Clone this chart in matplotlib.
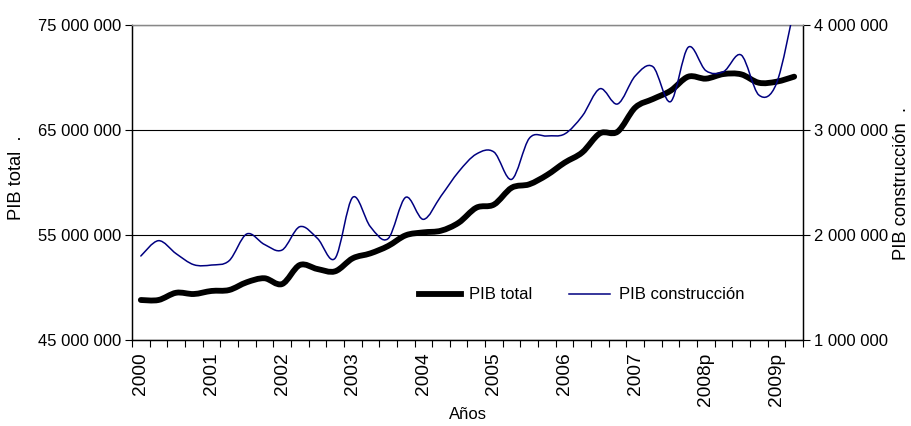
import matplotlib
matplotlib.use("Agg")
import matplotlib.pyplot as plt
from matplotlib.path import Path
from matplotlib.patches import PathPatch
from matplotlib.lines import Line2D
from matplotlib.ticker import FuncFormatter, FixedLocator, NullFormatter
import numpy as np

plt.rcParams['font.family'] = ['Liberation Sans', 'DejaVu Sans']
FS = 12      # horizontal texts
FSR = 13.8   # rotated year labels
FSL = 13.2   # axis titles

years = ["2000", "2001", "2002", "2003", "2004", "2005", "2006", "2007", "2008p", "2009p"]
quarters_per_year = 4

pib_total = [48810000, 48810000, 49500000, 49380000, 49670000, 49760000, 50500000, 50880000,
             50330000, 52140000, 51760000, 51540000, 52780000, 53250000, 53950000, 54970000,
             55250000, 55410000, 56170000, 57600000, 57900000, 59500000, 59830000, 60710000,
             61890000, 62870000, 64680000, 64840000, 67140000, 67950000, 68740000, 70080000,
             69890000, 70330000, 70300000, 69500000, 69600000, 70080000]

pib_construccion = [1800000, 1946000, 1822000, 1717000, 1714000, 1755000, 2010000, 1910000,
                    1857000, 2079000, 1968000, 1778000, 2359000, 2079000, 1965000, 2359000,
                    2149000, 2371000, 2603000, 2771000, 2790000, 2530000, 2921000, 2943000,
                    2962000, 3133000, 3393000, 3248000, 3515000, 3603000, 3270000, 3788000,
                    3565000, 3556000, 3714000, 3333000, 3444000, 4160000]

left_ticks = [45000000, 55000000, 65000000, 75000000]
right_ticks = [1000000, 2000000, 3000000, 4000000]


def smooth_path(xs, ys):
    xs = np.asarray(xs, float)
    ys = np.asarray(ys, float)
    pts = np.column_stack([xs, ys])
    n = len(pts)
    verts = [pts[0]]
    codes = [Path.MOVETO]
    for i in range(n - 1):
        p0 = pts[i - 1] if i > 0 else pts[i]
        p1 = pts[i]
        p2 = pts[i + 1]
        p3 = pts[i + 2] if i + 2 < n else pts[i + 1]
        c1 = p1 + (p2 - p0) / 6.0
        c2 = p2 - (p3 - p1) / 6.0
        verts += [c1, c2, p2]
        codes += [Path.CURVE4] * 3
    return Path(verts, codes)


fig = plt.figure(figsize=(9.12, 4.26), dpi=100)
ax = fig.add_axes([132 / 912, 86 / 426, 671 / 912, 315 / 426])
ax2 = ax.twinx()

x = np.arange(len(pib_total))
ax.set_xlim(-0.5, len(pib_total) - 0.5)
ax.set_ylim(left_ticks[0], left_ticks[-1])
ax2.set_ylim(right_ticks[0], right_ticks[-1])

black_col = "#000000"
blue_col = "#000080"

p1 = PathPatch(smooth_path(x, pib_total), fill=False, edgecolor=black_col, lw=4.2,
               capstyle='round', joinstyle='round', zorder=3)
ax.add_patch(p1)
p2 = PathPatch(smooth_path(x, pib_construccion), fill=False, edgecolor=blue_col, lw=1.1,
               capstyle='round', joinstyle='round', zorder=3)
ax2.add_patch(p2)

fmt = FuncFormatter(lambda v, pos: f"{int(round(v)):,}".replace(",", " "))
ax.yaxis.set_major_locator(FixedLocator(left_ticks))
ax.yaxis.set_major_formatter(fmt)
ax2.yaxis.set_major_locator(FixedLocator(right_ticks))
ax2.yaxis.set_major_formatter(fmt)

ax.grid(axis='y', color='black', lw=0.8)
ax.set_axisbelow(True)

boundaries = np.arange(len(pib_total) + 1) - 0.5
ax.xaxis.set_major_locator(FixedLocator(boundaries))
ax.xaxis.set_major_formatter(NullFormatter())
label_pos = [i * quarters_per_year for i in range(len(years))]
for pos, lab in zip(label_pos, years):
    ax.text(pos, -0.04, lab, transform=ax.get_xaxis_transform(), rotation=90,
            ha='center', va='top', fontsize=FSR)

for a in (ax, ax2):
    for s in a.spines.values():
        s.set_color('black')
        s.set_linewidth(0.9)
    a.spines['top'].set_color('#888888')
ax.tick_params(axis='x', direction='out', length=5, width=0.8, colors='black')
ax.tick_params(axis='y', direction='out', length=5, width=0.8, labelsize=FS, pad=3)
ax2.tick_params(axis='y', direction='out', length=5, width=0.8, labelsize=FS, pad=3)

ax.set_ylabel("PIB total  .", fontsize=FSL, ha='center', va='center')
ax.yaxis.set_label_coords(-0.1714, 0.514)
ax2.set_ylabel("PIB construcción  .", fontsize=FSL, rotation=90, ha='center', va='center')
ax2.yaxis.set_label_coords(1.1465, 0.498)
ax.set_xlabel("Años", fontsize=FS, va='center')
ax.xaxis.set_label_coords(0.5, -0.238)

handles = [Line2D([], [], color=black_col, lw=4.2),
           Line2D([], [], color=blue_col, lw=1.1)]
ax2.legend(handles, ["PIB total", "PIB construcción"], loc='center', ncol=2,
           bbox_to_anchor=(0.67, 0.143), frameon=False, fontsize=FS,
           handlelength=2.5, columnspacing=2.2, handletextpad=0.5)

fig.savefig("out.png", dpi=100)
